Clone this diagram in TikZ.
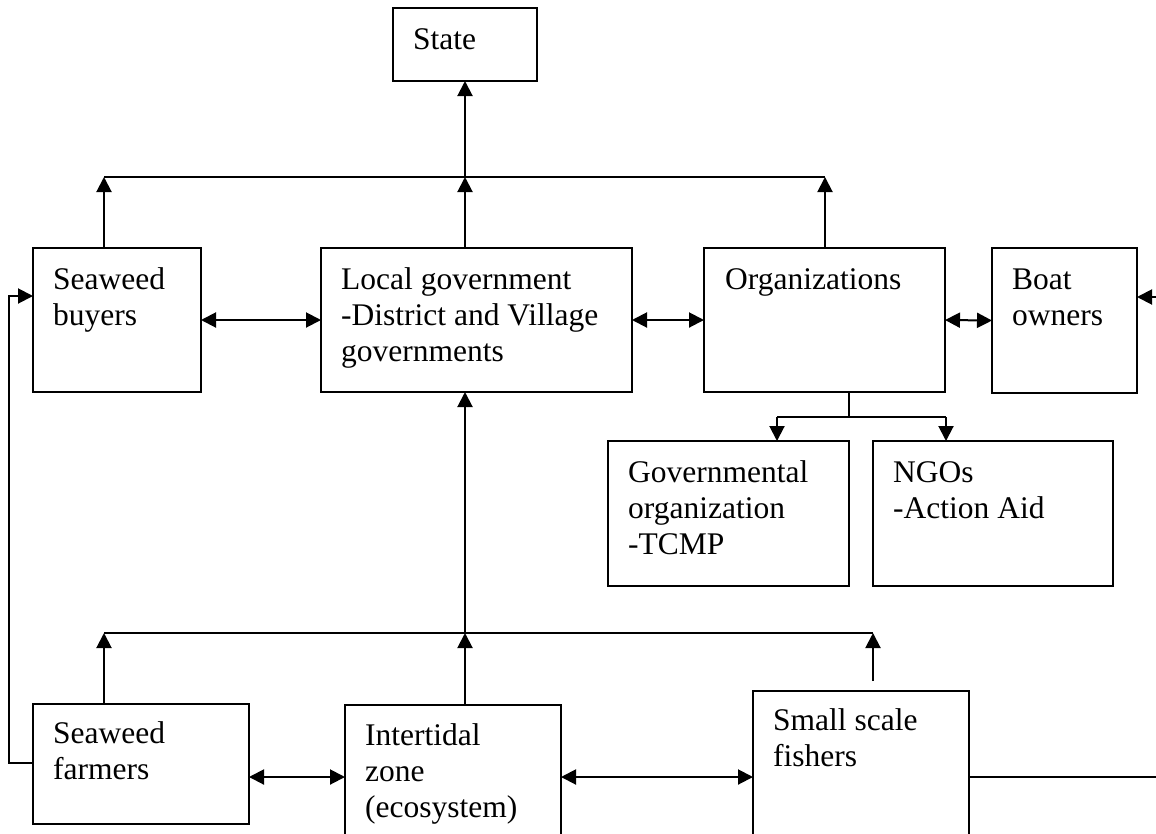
\documentclass[tikz,border=0pt]{standalone}
\usepackage{fontspec}
\setmainfont{Liberation Serif}
\usetikzlibrary{arrows.meta,calc}
\newcommand\boxtext[1]{\parbox[t]{400pt}{\raggedright #1}}
\begin{document}
\begin{tikzpicture}[x=1pt,y=-1pt,
  box/.style={draw, line width=2pt, inner sep=0pt, outer sep=0pt, anchor=north west},
  lbl/.style={anchor=base west, inner sep=0pt, font=\fontsize{31.5}{36}\selectfont},
  link/.style={line width=2pt},
  arr/.style={line width=2pt, -{Triangle[length=15pt,width=15pt]}},
  dbl/.style={line width=2pt, {Triangle[length=15pt,width=15pt]}-{Triangle[length=15pt,width=15pt]}}]
\useasboundingbox (0,0) rectangle (1156,833);
\clip (0,0) rectangle (1156,833);

% boxes
\node[box, minimum width=144pt, minimum height=73pt]  (state)   at (393,8)   {};
\node[box, minimum width=168pt, minimum height=144pt] (buyers)  at (33,248)  {};
\node[box, minimum width=311pt, minimum height=144pt] (lg)      at (321,248) {};
\node[box, minimum width=241pt, minimum height=144pt] (org)     at (704,248) {};
\node[box, minimum width=145pt, minimum height=145pt] (boat)    at (992,248) {};
\node[box, minimum width=241pt, minimum height=145pt] (gov)     at (608,441) {};
\node[box, minimum width=240pt, minimum height=145pt] (ngo)     at (873,441) {};
\node[box, minimum width=216pt, minimum height=120pt] (farmers) at (33,704)  {};
\node[box, minimum width=216pt, minimum height=240pt] (tidal)   at (345,705) {};
\node[box, minimum width=216pt, minimum height=240pt] (fish)    at (753,691) {};

% box texts
\node[lbl] (state-t)   at ($(state.north west)+(20,41)$)   {\boxtext{State}};
\node[lbl] (buyers-t)  at ($(buyers.north west)+(20,41)$)  {\boxtext{Seaweed\\buyers}};
\node[lbl] (lg-t)      at ($(lg.north west)+(20,41)$)      {\boxtext{Local government\\-District and Village\\governments}};
\node[lbl] (org-t)     at ($(org.north west)+(21,41)$)     {\boxtext{Organizations}};
\node[lbl] (boat-t)    at ($(boat.north west)+(20,41)$)    {\boxtext{Boat\\owners}};
\node[lbl] (gov-t)     at ($(gov.north west)+(20,41)$)     {\boxtext{Governmental\\organization\\-TCMP}};
\node[lbl] (ngo-t)     at ($(ngo.north west)+(20,41)$)     {\boxtext{NGOs\\-Action Aid}};
\node[lbl] (farmers-t) at ($(farmers.north west)+(20,39)$) {\boxtext{Seaweed\\farmers}};
\node[lbl] (tidal-t)   at ($(tidal.north west)+(20,40)$)   {\boxtext{Intertidal\\zone\\(ecosystem)}};
\node[lbl] (fish-t)    at ($(fish.north west)+(20,39)$)    {\boxtext{Small scale\\fishers}};

% upper bar towards the State
\coordinate (tl) at (104,177);
\coordinate (tm) at (465,177);
\coordinate (tr) at (825,177);
\draw[link] (tl) -- (tr);
\draw[arr] (tm) -- (tm |- state.south);
\draw[arr] (tl |- buyers.north) -- (tl);
\draw[arr] (tm |- lg.north) -- (tm);
\draw[arr] (tr |- org.north) -- (tr);

% middle row links
\draw[dbl] (buyers.east) -- (lg.west);
\draw[dbl] (lg.east) -- (org.west);
\draw[dbl] (org.east) -- (boat.west);
\coordinate (boat-in) at (1160,297);
\draw[arr] (boat-in) -- (boat-in -| boat.east);

% farmers back to buyers
\coordinate (loop) at (9,763);
\draw[arr] (farmers.west |- loop) -- (loop) |- ($(buyers.west)+(0,-24)$);

% organizations split
\coordinate (split) at (849,417);
\coordinate (sl) at (777,417);
\coordinate (sr) at (946,417);
\draw[link] (split |- org.south) -- (split);
\draw[link] (sl) -- (sr);
\draw[arr] (sl) -- (sl |- gov.north);
\draw[arr] (sr) -- (sr |- ngo.north);

% lower bar towards local government
\coordinate (bl) at (104,633);
\coordinate (bm) at (465,633);
\coordinate (br) at (873,633);
\coordinate (fish-up) at (873,681);
\draw[link] (bl) -- (br);
\draw[arr] (bm) -- (bm |- lg.south);
\draw[arr] (bl |- farmers.north) -- (bl);
\draw[arr] (bm |- tidal.north) -- (bm);
\draw[arr] (fish-up) -- (br);

% bottom row links
\coordinate (row) at (0,777);
\coordinate (fish-out) at (1160,777);
\draw[dbl] (farmers.east |- row) -- (tidal.west |- row);
\draw[dbl] (tidal.east |- row) -- (fish.west |- row);
\draw[link] (fish.east |- fish-out) -- (fish-out);
\end{tikzpicture}
\end{document}
